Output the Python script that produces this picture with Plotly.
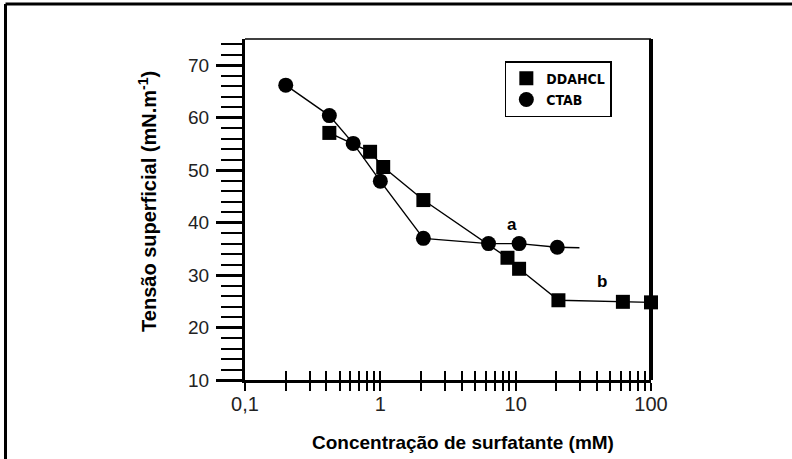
import plotly.graph_objects as go

# Surface tension vs surfactant concentration (log scale)
ddahcl_conc = [0.42, 0.84, 1.05, 2.08, 8.7, 10.6, 20.7, 62, 100]
ddahcl_tension = [57.1, 53.5, 50.6, 44.3, 33.3, 31.2, 25.2, 24.9, 24.8]

ctab_conc = [0.2, 0.42, 0.63, 1.0, 2.08, 6.3, 10.6, 20.3]
ctab_tension = [66.2, 60.4, 55.1, 47.9, 37.0, 36.0, 36.0, 35.3]

# plateau tail of the CTAB curve beyond the last measurement
ctab_tail_conc = [20.3, 29.6]
ctab_tail_tension = [35.3, 35.2]

x_tick_vals = [0.1, 0.2, 0.3, 0.4, 0.5, 0.6, 0.7, 0.8, 0.9,
               1, 2, 3, 4, 5, 6, 7, 8, 9,
               10, 20, 30, 40, 50, 60, 70, 80, 90, 100]
x_tick_text = ["0,1"] + [""] * 8 + ["1"] + [""] * 8 + ["10"] + [""] * 8 + ["100"]

LINE = dict(color="black", width=1.4)
FONT = "Liberation Sans, Arial, sans-serif"
NARROW = "Liberation Sans Narrow, DejaVu Sans Condensed, Arial Narrow, sans-serif"

fig = go.Figure()

# connecting lines
fig.add_trace(go.Scatter(x=ddahcl_conc, y=ddahcl_tension, mode="lines",
                         line=LINE, showlegend=False, hoverinfo="skip"))
fig.add_trace(go.Scatter(x=ctab_conc, y=ctab_tension, mode="lines",
                         line=LINE, showlegend=False, hoverinfo="skip"))
fig.add_trace(go.Scatter(x=ctab_tail_conc, y=ctab_tail_tension, mode="lines",
                         line=LINE, showlegend=False, hoverinfo="skip"))

# markers
fig.add_trace(go.Scatter(x=ddahcl_conc, y=ddahcl_tension, mode="markers",
                         name="DDAHCL", legendgroup="g1",
                         marker=dict(symbol="square", size=14, color="black"),
                         cliponaxis=False))
fig.add_trace(go.Scatter(x=ctab_conc, y=ctab_tension, mode="markers",
                         name="CTAB", legendgroup="g2",
                         marker=dict(symbol="circle", size=15, color="black"),
                         cliponaxis=False))

# empty trace carrying the inner half of the crossing x ticks
fig.add_trace(go.Scatter(x=[], y=[], xaxis="x2", showlegend=False, hoverinfo="skip"))

fig.update_layout(
    width=792, height=459,
    margin=dict(l=245, r=141, t=39, b=79),
    paper_bgcolor="white", plot_bgcolor="white",
    xaxis=dict(type="log", range=[-1, 2], showgrid=False, zeroline=False,
               showline=True, linecolor="black", linewidth=3,
               tickmode="array", tickvals=x_tick_vals, ticktext=x_tick_text,
               ticks="outside", ticklen=8, tickwidth=2, tickcolor="black",
               ticklabelstandoff=-4,
               tickfont=dict(family=FONT, size=20, color="#222")),
    xaxis2=dict(type="log", range=[-1, 2], overlaying="x", anchor="y", side="bottom",
                showgrid=False, zeroline=False, showline=False,
                tickmode="array", tickvals=x_tick_vals, showticklabels=False,
                ticks="inside", ticklen=9, tickwidth=2, tickcolor="black"),
    yaxis=dict(range=[10, 75], showgrid=False, zeroline=False,
               showline=True, linecolor="black", linewidth=3,
               tick0=10, dtick=10, ticks="outside", ticklen=26, tickwidth=3,
               tickcolor="black", ticklabelstandoff=3,
               tickfont=dict(family=FONT, size=19, color="#222"),
               minor=dict(tick0=10, dtick=2, ticks="outside", ticklen=21,
                          tickwidth=2, tickcolor="black")),
    legend=dict(x=0.640, y=0.935, xanchor="left", yanchor="top",
                bgcolor="white", bordercolor="black", borderwidth=1.5,
                font=dict(family=NARROW, size=14, color="black", weight="bold"),
                traceorder="grouped", tracegroupgap=0, itemwidth=30),
    showlegend=True,
)

# frame: thin top edge, heavy right edge of the plot area
fig.add_shape(type="line", xref="paper", yref="paper", x0=0, x1=1, y0=1, y1=1,
              line=dict(color="black", width=1.3), layer="below")
fig.add_shape(type="line", xref="paper", yref="paper", x0=1, x1=1, y0=0, y1=1,
              line=dict(color="black", width=4), layer="below")

# outer border (top and left)
fig.add_shape(type="line", xref="paper", yref="paper", x0=-0.5899, x1=1.35,
              y0=1.1026, y1=1.1026, line=dict(color="black", width=3))
fig.add_shape(type="line", xref="paper", yref="paper", x0=-0.5899, x1=-0.5899,
              y0=1.1026, y1=-0.25, line=dict(color="black", width=3))

# axis titles
fig.add_annotation(xref="paper", yref="paper", x=0.537, y=-0.182,
                   xanchor="center", yanchor="middle",
                   text="Concentração de surfatante (mM)", showarrow=False,
                   font=dict(family=FONT, size=19, color="black", weight="bold"))
fig.add_annotation(xref="paper", yref="paper", x=-0.239, y=0.525,
                   xanchor="center", yanchor="middle",
                   text="Tensão superficial (mN.m<sup>-1</sup>)", showarrow=False,
                   textangle=-90,
                   font=dict(family=FONT, size=20, color="black", weight="bold"))

# curve labels (log axis: x given as log10)
fig.add_annotation(x=0.973, y=39.6, text="a", showarrow=False,
                   font=dict(family=FONT, size=17, color="black", weight="bold"))
fig.add_annotation(x=1.636, y=28.8, text="b", showarrow=False,
                   font=dict(family=FONT, size=17, color="black", weight="bold"))

fig.write_html("out.html")
